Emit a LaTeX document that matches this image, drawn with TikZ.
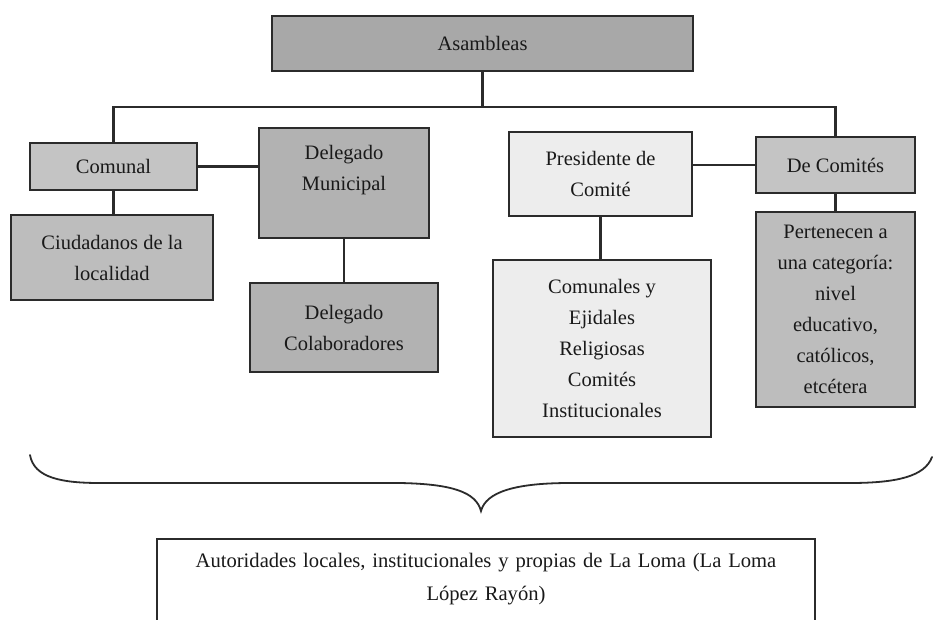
\documentclass[tikz,border=0pt]{standalone}
\usepackage{fontspec}
\setmainfont{Liberation Serif}
\usetikzlibrary{positioning}
\usetikzlibrary{arrows,calc}
\usepackage{xcolor}

\begin{document}
\begin{tikzpicture}[x=1pt,y=-1pt]

            % PAGE
            \clip (0,0) rectangle (933,620);
            \fill[white] (0,0) rectangle (933,620);

            % DEF COLORS
            \definecolor{linecolor_org}{rgb}{ 0.17 0.17 0.17 }
            \definecolor{textcolor_org}{rgb}{ 0.1 0.1 0.1 }
            \definecolor{fill_dark}{rgb}{ 0.66 0.66 0.66 }
            \definecolor{fill_mid}{rgb}{ 0.70 0.70 0.70 }
            \definecolor{fill_gray}{rgb}{ 0.74 0.74 0.74 }
            \definecolor{fill_light}{rgb}{ 0.77 0.77 0.77 }
            \definecolor{fill_pale}{rgb}{ 0.93 0.93 0.93 }

            % DEF STYLES
            \tikzstyle{boxstyle_org} = [draw=linecolor_org, line width=2.2pt, inner sep=0pt, align=center,
                                        text=textcolor_org, font=\fontsize{20.5}{31}\selectfont]
            \tikzstyle{edgestyle_org} = [line width=2.2pt, color=linecolor_org]

            % NODES
            \node[boxstyle_org, fill=fill_dark, minimum width=421, minimum height=55] (asambleas) at (482.5,43.5) {Asambleas};
            \node[boxstyle_org, fill=fill_light, minimum width=167, minimum height=47] (comunal) at (113.5,166.5) {Comunal};
            \node[boxstyle_org, fill=fill_mid, minimum width=170, minimum height=110] (muni) at (344,183) {Delegado\\Municipal\\~};
            \node[boxstyle_org, fill=fill_gray, minimum width=202, minimum height=85] (ciudadanos) at (112,257.5) {Ciudadanos de la\\localidad};
            \node[boxstyle_org, fill=fill_mid, minimum width=188, minimum height=89] (colab) at (344,327.5) {Delegado\\Colaboradores};
            \node[boxstyle_org, fill=fill_pale, minimum width=183, minimum height=84] (presidente) at (600.5,174) {Presidente de\\Comité};
            \node[boxstyle_org, fill=fill_light, minimum width=159, minimum height=56] (decomites) at (835.5,165) {De Comités};
            \node[boxstyle_org, fill=fill_pale, minimum width=218, minimum height=177] (comunales) at (602,348.5)
                  {Comunales y\\Ejidales\\Religiosas\\Comités\\Institucionales};
            \node[boxstyle_org, fill=fill_gray, minimum width=159, minimum height=195] (pertenecen) at (835.5,309.5)
                  {Pertenecen a\\una categoría:\\nivel\\educativo,\\católicos,\\etcétera};

            % BOTTOM BOX
            \node[draw=linecolor_org, line width=2.2pt, minimum width=658, minimum height=140, anchor=north] (autoridades) at (486,538) {};
            \node[text=textcolor_org, text width=640, align=center, inner sep=0pt, font=\fontsize{20.6}{33}\selectfont,
                  below=15pt of autoridades.north] (autoridades_txt)
                  {Autoridades locales, institucionales y propias de La Loma (La Loma\\López Rayón)};

            % EDGES
            \coordinate (bus) at (482,107);
            \draw[edgestyle_org] (asambleas.south) -- (asambleas.south |- bus);
            \draw[edgestyle_org] (comunal.north) -- (comunal.north |- bus) -- (decomites.north |- bus) -- (decomites.north);

            \foreach \a/\b in {comunal/ciudadanos,muni/colab,presidente/comunales,decomites/pertenecen} {
              \draw[edgestyle_org] (\a.south) -- (\a.south |- \b.north);
            }

            \draw[edgestyle_org] (comunal.east) -- (comunal.east -| muni.west);
            \draw[edgestyle_org] (decomites.west) -- (decomites.west -| presidente.east);

            % BRACE
            \draw[line width=1.8pt, color=linecolor_org, line cap=round]
              (30,455) .. controls (34,478) and (62,483) .. (100,483) -- (400,483)
              .. controls (452,484) and (476,492) .. (481,511)
              .. controls (486,492) and (515,483) .. (570,483) -- (850,483)
              .. controls (898,483) and (925,476) .. (932,457);

\end{tikzpicture}
\end{document}
